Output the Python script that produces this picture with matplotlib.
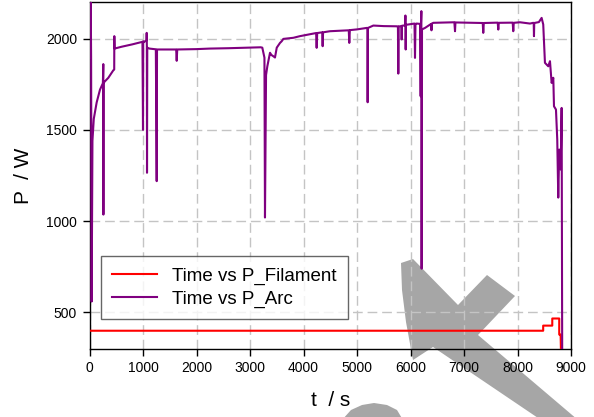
import matplotlib
matplotlib.use("Agg")
import matplotlib.pyplot as plt
from matplotlib.patches import Polygon

plt.rcParams['font.family'] = ['Liberation Sans', 'DejaVu Sans']

# ---- data ----
fil_t = [0, 8480, 8480, 8650, 8650, 8780, 8780, 8806, 8815]
fil_p = [400, 400, 428, 428, 467, 467, 379, 379, 250]

arc_t = [0, 15, 22, 30, 40, 45, 55, 80, 134, 196, 250, 258, 260, 262, 266, 290, 352, 414, 445,
         462, 464, 468, 600, 800, 990, 1000, 1004, 1010, 1040, 1066, 1069, 1072, 1075, 1080,
         1120, 1240, 1256, 1262, 1400, 1620, 1630, 1640, 2000, 2250, 2600, 3000, 3200, 3230,
         3270, 3280, 3300, 3324, 3374, 3400, 3436, 3467, 3500, 3561, 3592, 3623, 3810, 3934,
         4236, 4246, 4256, 4350, 4358, 4366, 4495, 4846, 4856, 4866, 5000, 5181, 5195, 5199,
         5205, 5305, 5500, 5742, 5765, 5772, 5780, 5830, 5835, 5840, 5900, 5905, 5910, 5915,
         5990, 6075, 6084, 6093, 6116, 6180, 6190, 6195, 6203, 6206, 6210, 6215, 6271, 6385,
         6392, 6400, 6426, 6820, 6832, 6840, 7000, 7350, 7360, 7370, 7630, 7641, 7650, 7910,
         7921, 7930, 8046, 8233, 8295, 8303, 8308, 8313, 8400, 8451, 8481, 8513, 8575, 8607,
         8638, 8669, 8682, 8719, 8743, 8762, 8780, 8807, 8825, 8836]
arc_p = [1900, 1895, 2250, 1900, 560, 900, 1440, 1560, 1650, 1720, 1755, 1860, 1036, 1760,
         1758, 1766, 1785, 1812, 1826, 1830, 2013, 1945, 1955, 1968, 1982, 1500, 1985, 1980,
         1985, 1990, 2031, 1960, 1265, 1950, 1945, 1941, 1219, 1940, 1940, 1940, 1878, 1940,
         1942, 1945, 1947, 1950, 1952, 1950, 1895, 1020, 1800, 1848, 1922, 1910, 1903, 1896,
         1950, 1976, 1985, 1998, 2004, 2013, 2030, 1949, 2030, 2034, 1958, 2034, 2040, 2045,
         1976, 2046, 2050, 2058, 2058, 1651, 2058, 2071, 2068, 2067, 2066, 1808, 2066, 2068,
         1995, 2070, 2072, 2126, 1940, 2075, 2078, 2082, 1894, 2080, 2082, 2080, 1684, 2080,
         2150, 740, 740, 2050, 2058, 2080, 2045, 2082, 2086, 2089, 2040, 2088, 2087, 2085,
         2031, 2085, 2087, 2049, 2086, 2087, 2040, 2086, 2089, 2082, 2086, 2085, 2013, 2085,
         2090, 2113, 2077, 1867, 1848, 1876, 1757, 1785, 1629, 1611, 1447, 1129, 1392, 1283,
         1620, 200]

x_ticks = [0, 1000, 2000, 3000, 4000, 5000, 6000, 7000, 8000, 9000]
y_ticks = [500, 1000, 1500, 2000]

W, H = 594, 417
fig = plt.figure(figsize=(W / 100, H / 100), dpi=100)
fig.patch.set_facecolor('white')
ax = fig.add_axes([89.5 / W, 1 - 349 / H, (571 - 89.5) / W, (349 - 2) / H])
ax.set_facecolor('none')
ax.set_zorder(1)

ax.plot(fil_t, fil_p, color='#ff0000', lw=1.5, label='Time vs P_Filament', zorder=3)
ax.plot(arc_t, arc_p, color='#800080', lw=1.5, label='Time vs P_Arc', zorder=3)

ax.set_xlim(0, 9000)
ax.set_ylim(300, 2200)
ax.set_xticks(x_ticks)
ax.set_yticks(y_ticks)
ax.grid(True, color='#c4c4c4', lw=1.0, linestyle=(0, (7, 3.5)))
ax.set_axisbelow(True)
ax.tick_params(axis='both', direction='out', length=5, width=1, labelsize=10,
               colors='black', pad=4)
ax.tick_params(top=False, right=False)
for s in ax.spines.values():
    s.set_linewidth(1.0)
    s.set_color('black')

ax.set_xlabel('t  / s', fontsize=15, labelpad=11)
ax.set_ylabel('P  / W', fontsize=15, labelpad=9)

leg = ax.legend(loc='lower left', bbox_to_anchor=((101 - 89.5) / (571 - 89.5), (349 - 319) / 347),
                fontsize=13.5, frameon=True, fancybox=False, borderpad=0.6,
                handlelength=2.4, handletextpad=0.8, borderaxespad=0, labelspacing=0.3)
leg.get_frame().set_edgecolor('#404040')
leg.get_frame().set_linewidth(1.0)

# ---- grey overlay shape present in the reference picture ----
def fp(pts):
    return [(x / W, 1 - y / H) for x, y in pts]

shape_x = [(401, 263), (413, 259), (458, 305), (487, 275), (515, 296), (478, 335),
           (578, 420), (541, 420), (433, 347), (413, 360), (406, 322), (402, 290)]
shape_arc = [(342, 420), (351, 410), (362, 405), (374, 403), (387, 405), (397, 410), (403, 420)]
for pts in (shape_x, shape_arc):
    fig.patches.append(Polygon(fp(pts), closed=True, transform=fig.transFigure,
                               facecolor='#a6a6a6', edgecolor='none', zorder=0))

fig.savefig('out.png', dpi=100)
